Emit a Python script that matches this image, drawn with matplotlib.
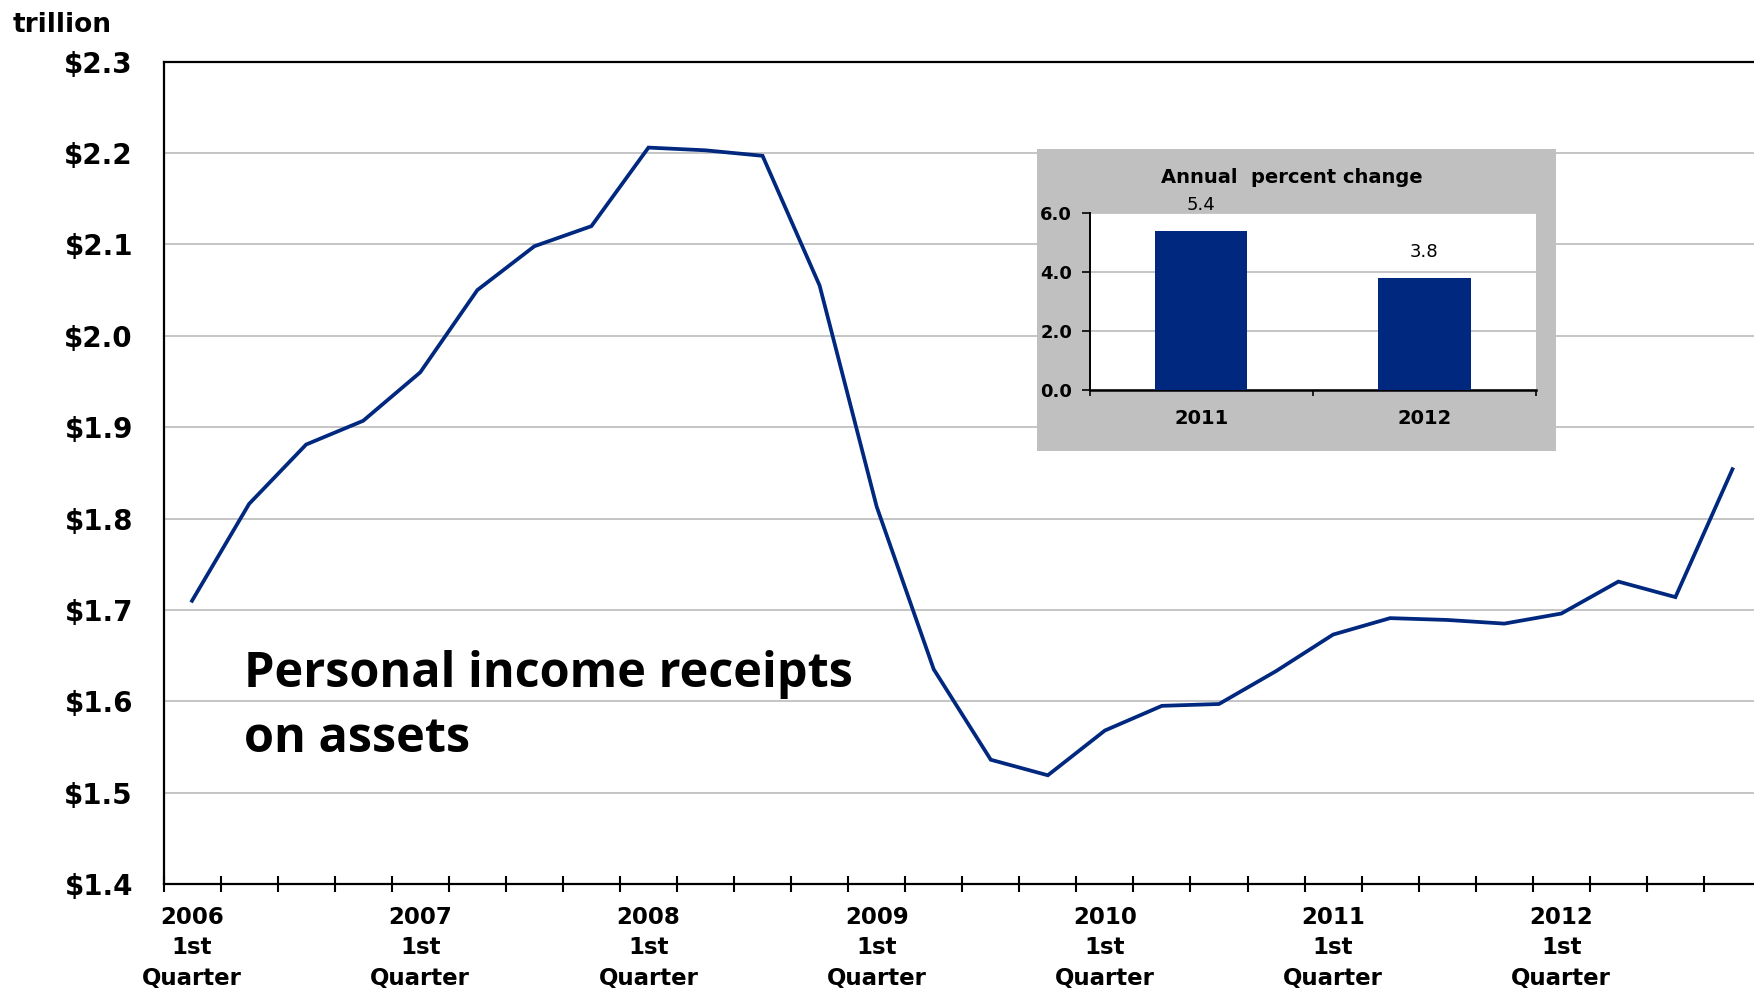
import numpy as np
import matplotlib
matplotlib.use("Agg")
import matplotlib.pyplot as plt

# ---------------------------------------------------------------
# Data (quarterly, 2006Q1 - 2012Q4), trillions of dollars
# ---------------------------------------------------------------
receipts = [1.710, 1.816, 1.881, 1.907,   # 2006
            1.960, 2.050, 2.098, 2.120,   # 2007
            2.206, 2.203, 2.197, 2.055,   # 2008
            1.813, 1.635, 1.536, 1.519,   # 2009
            1.568, 1.595, 1.597, 1.633,   # 2010
            1.673, 1.691, 1.689, 1.685,   # 2011
            1.696, 1.731, 1.714, 1.854]   # 2012
years = ['2006', '2007', '2008', '2009', '2010', '2011', '2012']
y_ticks = [1.4, 1.5, 1.6, 1.7, 1.8, 1.9, 2.0, 2.1, 2.2, 2.3]

# inset: annual percent change
inset_years = ['2011', '2012']
inset_change = [5.4, 3.8]
inset_ticks = [0.0, 2.0, 4.0, 6.0]

NAVY = '#00287f'
GRID = '#c0c0c0'
W, H = 1754, 992

plt.rcParams['font.family'] = 'DejaVu Sans'

fig = plt.figure(figsize=(W / 100, H / 100), dpi=100)
fig.patch.set_facecolor('white')

# ---------------------------------------------------------------
# Main line chart
# ---------------------------------------------------------------
ax = fig.add_axes([163.5 / W, (H - 884) / H, (1761 - 163.5) / W, (884 - 61.7) / H])
x = np.arange(len(receipts))
ax.plot(x, receipts, color=NAVY, linewidth=2.7, solid_joinstyle='miter', zorder=3)

ax.set_xlim(-0.5, len(receipts) - 0.5)
ax.set_ylim(1.4, 2.3)

ax.set_yticks(y_ticks)
ax.set_yticklabels(['\\$%.1f' % v for v in y_ticks], fontsize=20, fontweight='bold')
ax.tick_params(axis='y', length=0, pad=22)

ax.set_xticks(np.arange(0, len(receipts), 4))
ax.set_xticklabels([f'{y}\n1st\nQuarter' for y in years], fontsize=16.5,
                   fontweight='bold', linespacing=1.4)
ax.set_xticks(np.arange(-0.5, len(receipts), 1), minor=True)
ax.tick_params(axis='x', which='major', length=0, pad=16)
ax.tick_params(axis='x', which='minor', direction='inout', length=12, width=1.5)

ax.yaxis.grid(True, color=GRID, linewidth=1.3)
ax.set_axisbelow(True)
for side in ['left', 'bottom', 'top']:
    ax.spines[side].set_linewidth(1.6)
    ax.spines[side].set_color('black')
ax.spines['right'].set_visible(False)

fig.text(13 / W, 1 - 25 / H, 'trillion', fontsize=19, fontweight='bold',
         ha='left', va='center')

fig.text(244 / W, 1 - 650 / H, 'Personal income receipts\non assets',
         family='Open Sans', fontweight='bold', fontsize=35,
         ha='left', va='top', linespacing=1.42)

# ---------------------------------------------------------------
# Inset: annual percent change
# ---------------------------------------------------------------
box = fig.add_axes([1037 / W, (H - 451) / H, 519 / W, 302 / H], zorder=4)
box.set_facecolor(GRID)
box.set_xticks([])
box.set_yticks([])
for s in box.spines.values():
    s.set_visible(False)
box.text(0.491, 0.905, 'Annual  percent change', transform=box.transAxes,
         ha='center', va='center', fontsize=14, fontweight='bold')

ins = fig.add_axes([1089.5 / W, (H - 390) / H, (1536 - 1089.5) / W, (390 - 213.3) / H],
                   zorder=5)
ins.set_facecolor('white')
xi = np.arange(len(inset_change))
bars = ins.bar(xi, inset_change, width=0.415, color=NAVY, zorder=3)
for b, v in zip(bars, inset_change):
    ins.annotate(f'{v:.1f}', xy=(b.get_x() + b.get_width() / 2, v),
                 xytext=(0, 19), textcoords='offset points',
                 ha='center', va='center', fontsize=13)

ins.set_xlim(-0.5, len(inset_change) - 0.5)
ins.set_ylim(0, 6)
ins.set_yticks(inset_ticks)
ins.set_yticklabels([f'{v:.1f}' for v in inset_ticks], fontsize=13, fontweight='bold')
ins.tick_params(axis='y', direction='out', length=5.5, width=1.2, pad=7)
ins.set_xticks(xi)
ins.set_xticklabels(inset_years, fontsize=14, fontweight='bold')
ins.set_xticks([-0.5, 0.5, 1.5], minor=True)
ins.tick_params(axis='x', which='major', length=0, pad=14)
ins.tick_params(axis='x', which='minor', direction='out', length=4, width=1.2)
ins.yaxis.grid(True, color=GRID, linewidth=1.3)
ins.set_axisbelow(True)
ins.spines['top'].set_visible(False)
ins.spines['right'].set_visible(False)
ins.spines['left'].set_linewidth(1.4)
ins.spines['bottom'].set_linewidth(1.8)

fig.savefig('out.png', dpi=100)
